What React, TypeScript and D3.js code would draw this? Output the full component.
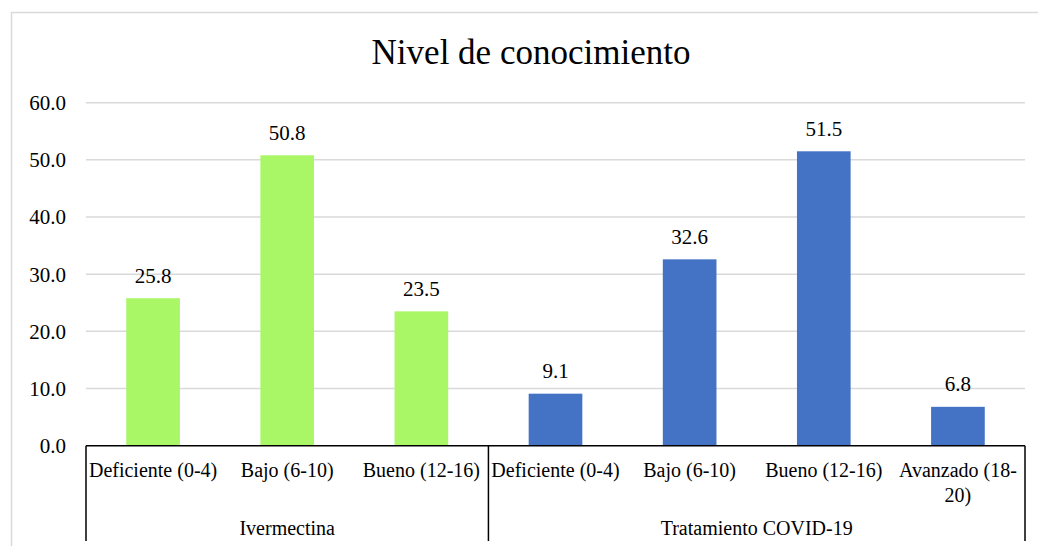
import React from "react";
import * as d3 from "d3";

const title = "Nivel de conocimiento";
const categories = [
  "Deficiente (0-4)",
  "Bajo (6-10)",
  "Bueno (12-16)",
  "Deficiente (0-4)",
  "Bajo (6-10)",
  "Bueno (12-16)",
  "Avanzado (18-20)",
];
const categoryLines = [
  ["Deficiente (0-4)"],
  ["Bajo (6-10)"],
  ["Bueno (12-16)"],
  ["Deficiente (0-4)"],
  ["Bajo (6-10)"],
  ["Bueno (12-16)"],
  ["Avanzado (18-", "20)"],
];
const values = [25.8, 50.8, 23.5, 9.1, 32.6, 51.5, 6.8];
const groupNames = ["Ivermectina", "Tratamiento COVID-19"];
const groupSizes = [3, 4];
const groupColors = ["#A9F766", "#4472C4"];
const yTicks = [0, 10, 20, 30, 40, 50, 60];

const W = 1038;
const H = 546;
const FONT = "Liberation Serif, Times New Roman, serif";
const ts = (size: number): React.CSSProperties => ({
  fontFamily: FONT,
  fontSize: size + "px",
});

export default function App() {
  const left = 86;
  const right = 1025;
  const top = 102.7;
  const bottom = 445.7;
  const x = d3
    .scaleBand<number>()
    .domain(d3.range(categories.length))
    .range([left, right])
    .paddingInner(0)
    .paddingOuter(0);
  const y = d3.scaleLinear().domain([0, 60]).range([bottom, top]);
  const bw = x.bandwidth();
  const barW = bw * 0.4;

  const groupIdx: number[] = [];
  groupSizes.forEach((s, g) => {
    for (let i = 0; i < s; i++) groupIdx.push(g);
  });
  const boundaries: number[] = [0];
  let acc = 0;
  groupSizes.forEach((s) => {
    acc += s;
    boundaries.push(acc);
  });
  const bx = (i: number) => (i < categories.length ? (x(i) as number) : right);

  return (
    <svg
      width={W}
      height={H}
      style={{ position: "absolute", left: 0, top: 0, display: "block", fontFamily: FONT }}
    >
      <rect x={0} y={0} width={W} height={H} fill="#fff" />
      <rect
        x={11.5}
        y={12.5}
        width={W + 20}
        height={H + 20}
        fill="#fff"
        stroke="#d9d9d9"
        strokeWidth={1.5}
      />
      <text x={531} y={64} textAnchor="middle" style={ts(35)} fill="#000">
        {title}
      </text>
      {yTicks.map((t) => (
        <g key={t}>
          {t > 0 && (
            <line
              x1={left}
              x2={right}
              y1={y(t)}
              y2={y(t)}
              stroke="#d9d9d9"
              strokeWidth={1.5}
            />
          )}
          <text
            x={66}
            y={y(t)}
            dy="0.35em"
            textAnchor="end"
            style={ts(21)}
            fill="#000"
          >
            {d3.format(".1f")(t)}
          </text>
        </g>
      ))}
      {values.map((v, i) => {
        const cx = (x(i) as number) + bw / 2;
        return (
          <g key={i}>
            <rect
              x={cx - barW / 2}
              y={y(v)}
              width={barW}
              height={y(0) - y(v)}
              fill={groupColors[groupIdx[i]]}
            />
            <text
              x={cx}
              y={y(v) - 15.5}
              textAnchor="middle"
              style={ts(21)}
              fill="#000"
            >
              {d3.format(".1f")(v)}
            </text>
            {categoryLines[i].map((ln, k) => (
              <text
                key={k}
                x={cx}
                y={477 + k * 24.5}
                textAnchor="middle"
                style={ts(20)}
                fill="#000"
              >
                {ln}
              </text>
            ))}
          </g>
        );
      })}
      <line x1={left} x2={right} y1={bottom} y2={bottom} stroke="#000" strokeWidth={1.5} />
      {boundaries.map((b, i) => (
        <line
          key={i}
          x1={bx(b)}
          x2={bx(b)}
          y1={bottom}
          y2={541}
          stroke="#000"
          strokeWidth={1.5}
        />
      ))}
      {groupNames.map((g, i) => {
        const a = bx(boundaries[i]);
        const b = bx(boundaries[i + 1]);
        return (
          <text
            key={g}
            x={(a + b) / 2}
            y={535}
            textAnchor="middle"
            style={ts(20)}
            fill="#000"
          >
            {g}
          </text>
        );
      })}
    </svg>
  );
}
